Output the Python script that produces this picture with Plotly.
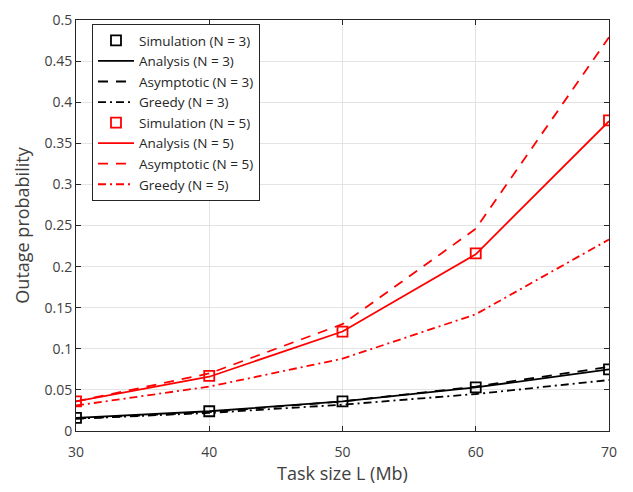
import plotly.graph_objects as go

L = [30, 40, 50, 60, 70]
sim3 = [0.016, 0.024, 0.036, 0.053, 0.075]
ana3 = [0.016, 0.024, 0.036, 0.053, 0.075]
asy3 = [0.015, 0.023, 0.036, 0.054, 0.078]
gre3 = [0.015, 0.022, 0.032, 0.045, 0.062]
sim5 = [0.036, 0.067, 0.121, 0.216, 0.378]
ana5 = [0.036, 0.066, 0.121, 0.215, 0.377]
asy5 = [0.036, 0.070, 0.130, 0.246, 0.479]
gre5 = [0.031, 0.054, 0.088, 0.142, 0.233]
yticks = [0, 0.05, 0.1, 0.15, 0.2, 0.25, 0.3, 0.35, 0.4, 0.45, 0.5]
yticklabels = ["0", "0.05", "0.1", "0.15", "0.2", "0.25", "0.3", "0.35", "0.4", "0.45", "0.5"]

fig = go.Figure()

def add_series(name, x, y, color, kind):
    if kind == "sim":
        fig.add_trace(go.Scatter(x=x, y=y, name=name, mode="markers",
                                 marker=dict(symbol="square-open", size=10, color=color,
                                             line=dict(width=1.8, color=color))))
    else:
        dash = {"ana": "solid", "asy": "10px,8px", "gre": "8px,4px,2px,4px"}[kind]
        fig.add_trace(go.Scatter(x=x, y=y, name=name, mode="lines",
                                 line=dict(color=color, width=1.8, dash=dash)))

add_series("Simulation (N = 3)", L, sim3, "black", "sim")
add_series("Analysis (N = 3)", L, ana3, "black", "ana")
add_series("Asymptotic (N = 3)", L, asy3, "black", "asy")
add_series("Greedy (N = 3)", L, gre3, "black", "gre")
add_series("Simulation (N = 5)", L, sim5, "red", "sim")
add_series("Analysis (N = 5)", L, ana5, "red", "ana")
add_series("Asymptotic (N = 5)", L, asy5, "red", "asy")
add_series("Greedy (N = 5)", L, gre5, "red", "gre")

axis_common = dict(showline=True, linecolor="#262626", linewidth=1, mirror="ticks",
                   ticks="inside", ticklen=5, tickcolor="#262626",
                   showgrid=True, gridcolor="#e3e3e3", gridwidth=1, zeroline=False,
                   tickfont=dict(family="Open Sans", size=14, color="#404040"))

fig.update_layout(
    width=633, height=492,
    margin=dict(l=76, r=24, t=10, b=61),
    paper_bgcolor="white", plot_bgcolor="white",
    font=dict(family="Open Sans", color="#262626"),
    xaxis=dict(range=[30, 70], tickvals=L, ticktext=[str(v) for v in L],
               ticklabelstandoff=8,
               title=dict(text="Task size L (Mb)", font=dict(size=18, color="#404040"), standoff=4),
               **axis_common),
    yaxis=dict(range=[0, 0.5], tickvals=yticks, ticktext=yticklabels,
               ticklabeloverflow="allow",
               title=dict(text="Outage probability", font=dict(size=18, color="#404040"), standoff=10),
               **axis_common),
    legend=dict(x=0.03, y=0.99, xanchor="left", yanchor="top",
                bgcolor="white", bordercolor="#262626", borderwidth=1,
                font=dict(family="Open Sans", size=13.5, color="#262626"),
                tracegroupgap=0, itemwidth=36),
    showlegend=True,
)

fig.write_html("out.html")
